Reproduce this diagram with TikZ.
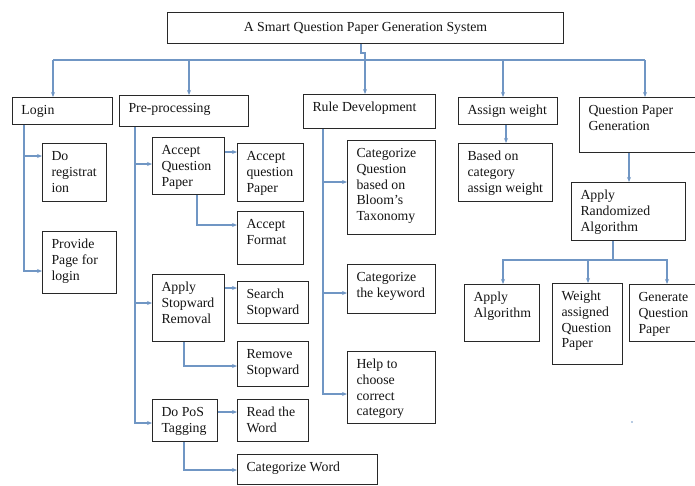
\documentclass[tikz,border=0pt]{standalone}
\usepackage{fontspec}
\setmainfont{Liberation Serif}
\usetikzlibrary{arrows.meta}
\definecolor{linec}{RGB}{112,150,196}
\definecolor{boxc}{RGB}{40,40,40}
\definecolor{txtc}{RGB}{20,20,20}
\newcommand\bxtext[3]{\parbox[c][#2pt][t]{#1pt}{\rmfamily\fontsize{13.8}{15.8}\selectfont\hyphenpenalty=10000\vspace*{6pt}\leftskip=9pt\rightskip=0pt plus 1fil\parindent=0pt\strut #3}}
\tikzset{
  box/.style={draw=boxc, line width=1pt, inner sep=0pt, anchor=north west, text=txtc},
  conn/.style={draw=linec, line width=1.1pt, -{Stealth[length=5pt,width=4pt]}},
  bus/.style={draw=linec, line width=1.1pt}
}
\begin{document}
\begin{tikzpicture}[x=1pt,y=-1pt]
\useasboundingbox (0,0) rectangle (695,485);
\clip (0,0) rectangle (695,485);
% title
\node[box, minimum width=396pt, minimum height=31pt, font=\rmfamily\fontsize{13.8}{15.8}\selectfont] (title) at (167,12) {A Smart Question Paper Generation System};
% top level
\node[box] (login) at (12,97) {\bxtext{100}{27}{Login}};
\node[box] (pre) at (119,95) {\bxtext{129}{31}{Pre-processing}};
\node[box] (rule) at (303,94) {\bxtext{132}{34}{Rule Development}};
\node[box] (aw) at (458,97) {\bxtext{99}{27}{Assign weight}};
\node[box] (qpg) at (579,97) {\bxtext{130}{55}{Question Paper\\Generation}};
% login children
\node[box] (doreg) at (42,143) {\bxtext{64}{58}{Do\\registrat\\ion}};
\node[box] (provide) at (42,231) {\bxtext{74}{62}{Provide\\Page for\\login}};
% pre-processing children
\node[box] (aqp) at (152,137) {\bxtext{72}{57}{Accept\\Question\\Paper}};
\node[box] (aqp2) at (237,143) {\bxtext{66}{58}{Accept\\question\\Paper}};
\node[box] (fmt) at (237,211) {\bxtext{66}{53}{Accept\\Format}};
\node[box] (asr) at (152,274) {\bxtext{72}{67}{Apply\\Stopward\\Removal}};
\node[box] (search) at (237,281) {\bxtext{71}{42}{Search\\Stopward}};
\node[box] (remove) at (237,341) {\bxtext{71}{45}{Remove\\Stopward}};
\node[box] (dpt) at (152,399) {\bxtext{65}{42}{Do PoS\\Tagging}};
\node[box] (read) at (237,399) {\bxtext{71}{42}{Read the\\Word}};
\node[box] (catw) at (237,454) {\bxtext{140}{30}{Categorize Word}};
% rule development children
\node[box] (cq) at (347,140) {\bxtext{88}{94}{Categorize\\Question\\based on\\Bloom's\\Taxonomy}};
\node[box] (ck) at (347,264) {\bxtext{88}{49}{Categorize\\the keyword}};
\node[box] (help) at (347,351) {\bxtext{88}{72}{Help to\\choose\\correct\\category}};
% assign weight child
\node[box] (based) at (458,143) {\bxtext{94}{58}{Based on\\category\\assign weight}};
% question paper generation children
\node[box] (ara) at (571,182) {\bxtext{114}{58}{Apply\\Randomized\\Algorithm}};
\node[box] (aa) at (464,284) {\bxtext{75}{57}{Apply\\Algorithm}};
\node[box] (wa) at (552,283) {\bxtext{70}{81}{Weight\\assigned\\Question\\Paper}};
\node[box] (gq) at (629,284) {\bxtext{80}{57}{Generate\\Question\\Paper}};

% ---- connectors: title to top level
\coordinate (t0) at ([xshift=194pt]title.south west);
\coordinate (tj) at ([yshift=-9pt]t0);
\coordinate (ty) at ([yshift=-16pt]title.south);
\coordinate (bl) at ([xshift=41pt]login.north west);
\coordinate (bp) at ([xshift=70pt]pre.north west);
\coordinate (br) at ([xshift=62pt]rule.north west);
\coordinate (ba) at ([xshift=45pt]aw.north west);
\coordinate (bq) at ([xshift=66pt]qpg.north west);
\draw[conn] (t0) -- (tj) -| (br);
\draw[bus] (bl |- ty) -- (bq |- ty);
\draw[conn] (bl |- ty) -- (bl);
\draw[conn] (bp |- ty) -- (bp);
\draw[conn] (ba |- ty) -- (ba);
\draw[conn] (bq |- ty) -- (bq);

% ---- login
\draw[conn] ([xshift=12pt]login.south west) |- ([yshift=-13pt]doreg.north west);
\draw[conn] ([xshift=12pt]login.south west) |- ([yshift=-40pt]provide.north west);

% ---- pre-processing
\draw[conn] ([xshift=16pt]pre.south west) |- ([yshift=-27pt]aqp.north west);
\draw[conn] ([xshift=16pt]pre.south west) |- ([yshift=-29pt]asr.north west);
\draw[conn] ([xshift=16pt]pre.south west) |- ([yshift=-24pt]dpt.north west);
\coordinate (a1) at ([yshift=-15pt]aqp.north east);
\draw[conn] (a1) -- (a1 -| aqp2.west);
\draw[conn] ([xshift=45pt]aqp.south west) |- ([yshift=-14pt]fmt.north west);
\coordinate (a2) at ([yshift=-14pt]asr.north east);
\draw[conn] (a2) -- (a2 -| search.west);
\draw[conn] ([xshift=32pt]asr.south west) |- ([yshift=-25pt]remove.north west);
\coordinate (a3) at ([yshift=-13pt]dpt.north east);
\draw[conn] (a3) -- (a3 -| read.west);
\draw[conn] ([xshift=32pt]dpt.south west) |- ([yshift=-16pt]catw.north west);

% ---- rule development
\draw[conn] ([xshift=20pt]rule.south west) |- ([yshift=-42pt]cq.north west);
\draw[conn] ([xshift=20pt]rule.south west) |- ([yshift=-29pt]ck.north west);
\draw[conn] ([xshift=20pt]rule.south west) |- ([yshift=-43pt]help.north west);

% ---- assign weight
\coordinate (w1) at ([xshift=48pt]aw.south west);
\draw[conn] (w1) -- (w1 |- based.north);

% ---- question paper generation
\coordinate (q1) at ([xshift=50pt]qpg.south west);
\draw[conn] (q1) -- (q1 |- ara.north);
\coordinate (r0) at ([xshift=42pt]ara.south west);
\coordinate (rb) at ([yshift=-19pt]r0);
\draw[bus] (r0) -- (rb);
\draw[conn] (rb) -| ([xshift=39pt]aa.north west);
\draw[conn] (rb) -| ([xshift=36pt]wa.north west);
\draw[conn] (rb) -| ([xshift=38pt]gq.north west);

% stray dot
\fill[linec] (632,422) circle (0.8pt);
\end{tikzpicture}
\end{document}
